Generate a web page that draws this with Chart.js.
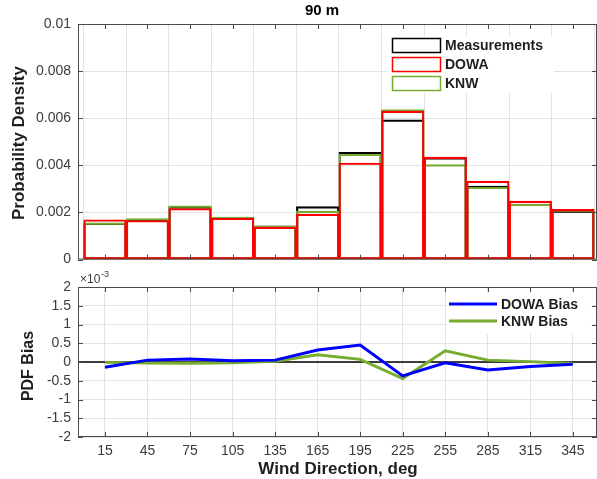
<!DOCTYPE html>
<html>
<head>
<meta charset="utf-8">
<script src="https://cdn.jsdelivr.net/npm/chart.js@4/dist/chart.umd.min.js"></script>
<style>
  html, body { margin: 0; padding: 0; background: #fff; width: 597px; height: 479px; overflow: hidden; }
  canvas { position: absolute; left: 0; }
  #densityChart { top: 0; }
  #biasChart { top: 270px; }
</style>
</head>
<body>
<canvas id="densityChart" width="597" height="275"></canvas>
<canvas id="biasChart" width="597" height="209"></canvas>
<script>
// Wind direction sector centres (deg)
const directions = [15, 45, 75, 105, 135, 165, 195, 225, 255, 285, 315, 345];

// Probability density per 30-degree sector at 90 m
const measurements = [0.00155, 0.00171, 0.00225, 0.00179, 0.00143, 0.00225, 0.00455, 0.00593, 0.00433, 0.00312, 0.00236, 0.00207];
const dowa         = [0.00169, 0.00166, 0.00217, 0.001755, 0.00138, 0.00193, 0.00410, 0.00630, 0.00435, 0.00333, 0.00248, 0.00213];
const knw          = [0.00156, 0.00174, 0.00228, 0.00181, 0.00141, 0.00206, 0.00448, 0.00637, 0.00403, 0.00307, 0.00235, 0.00211];

// PDF bias (measurements minus model)
const dowaBias = [-0.00014, 0.00005, 0.00008, 0.000035, 0.00005, 0.00032, 0.00045, -0.00037, -0.00002, -0.00021, -0.00012, -0.00006];
const knwBias  = [-0.00001, -0.00003, -0.00003, -0.00002, 0.00002, 0.00019, 0.00007, -0.00044, 0.00030, 0.00005, 0.00001, -0.00004];

// Axis ticks
const densityTicks = [0, 0.002, 0.004, 0.006, 0.008, 0.01];
const biasTicks = [-0.002, -0.0015, -0.001, -0.0005, 0, 0.0005, 0.001, 0.0015, 0.002];

const FONT = "'Liberation Sans', Arial, Helvetica, sans-serif";
const GRID = '#e3e3e3';
const AXIS = '#4a4a4a';
const TICK_TEXT = '#3c3c3c';
const LABEL = '#1e1e1e';
const RED = '#ff0000';
const GREEN = '#77ac30';
const BLUE = '#0000ff';

const toPoints = vals => directions.map((d, i) => ({ x: d, y: vals[i] }));

// Box around the plot area with inward tick marks on all four sides
function drawFrame(chart) {
  const { ctx, chartArea: a, scales } = chart;
  ctx.save();
  ctx.strokeStyle = AXIS;
  ctx.lineWidth = 1;
  ctx.strokeRect(a.left + 0.5, a.top + 0.5, a.right - a.left - 1, a.bottom - a.top - 1);
  ctx.beginPath();
  scales.x.ticks.forEach(t => {
    const px = Math.round(scales.x.getPixelForValue(t.value)) + 0.5;
    ctx.moveTo(px, a.bottom); ctx.lineTo(px, a.bottom - 5);
    ctx.moveTo(px, a.top); ctx.lineTo(px, a.top + 5);
  });
  scales.y.ticks.forEach(t => {
    const py = Math.round(scales.y.getPixelForValue(t.value)) + 0.5;
    ctx.moveTo(a.left, py); ctx.lineTo(a.left + 5, py);
    ctx.moveTo(a.right, py); ctx.lineTo(a.right - 5, py);
  });
  ctx.stroke();
  ctx.restore();
}

const densityDecor = {
  id: 'densityDecor',
  afterDatasetsDraw(chart) {
    const ctx = chart.ctx;
    drawFrame(chart);
    ctx.save();
    // legend
    ctx.fillStyle = '#ffffff';
    ctx.fillRect(388, 36, 166, 57);
    const items = [['Measurements', '#000000', 38], ['DOWA', RED, 57], ['KNW', GREEN, 76]];
    ctx.font = 'bold 14px ' + FONT;
    ctx.textBaseline = 'middle';
    ctx.textAlign = 'left';
    items.forEach(([name, color, y]) => {
      ctx.strokeStyle = color;
      ctx.lineWidth = 1.5;
      ctx.strokeRect(392.5, y + 0.5, 48, 14);
      ctx.fillStyle = LABEL;
      ctx.fillText(name, 445, y + 8);
    });
    // title
    ctx.textAlign = 'center';
    ctx.font = 'bold 15px ' + FONT;
    ctx.fillStyle = '#000';
    ctx.fillText('90 m', 322, 11);
    // y-axis title
    ctx.translate(19, 143);
    ctx.rotate(-Math.PI / 2);
    ctx.font = 'bold 17px ' + FONT;
    ctx.fillStyle = LABEL;
    ctx.fillText('Probability Density', 0, 0);
    ctx.restore();
  }
};

const biasDecor = {
  id: 'biasDecor',
  beforeDatasetsDraw(chart) {
    const { ctx, chartArea: a, scales } = chart;
    const y0 = scales.y.getPixelForValue(0);
    ctx.save();
    ctx.strokeStyle = '#000';
    ctx.lineWidth = 1.5;
    ctx.beginPath();
    ctx.moveTo(a.left, y0); ctx.lineTo(a.right, y0);
    ctx.stroke();
    ctx.restore();
  },
  afterDatasetsDraw(chart) {
    const ctx = chart.ctx;
    drawFrame(chart);
    ctx.save();
    // legend
    ctx.fillStyle = '#ffffff';
    ctx.fillRect(447, 23, 144, 41);
    ctx.font = 'bold 14px ' + FONT;
    ctx.textBaseline = 'middle';
    ctx.textAlign = 'left';
    [['DOWA Bias', BLUE, 34], ['KNW Bias', GREEN, 51]].forEach(([name, color, y]) => {
      ctx.strokeStyle = color;
      ctx.lineWidth = 3;
      ctx.beginPath();
      ctx.moveTo(449, y); ctx.lineTo(497, y);
      ctx.stroke();
      ctx.fillStyle = LABEL;
      ctx.fillText(name, 501, y + 1);
    });
    // exponent label
    ctx.fillStyle = TICK_TEXT;
    ctx.font = '12px ' + FONT;
    ctx.textBaseline = 'alphabetic';
    ctx.fillText('\u00d710', 80, 13);
    ctx.font = '9px ' + FONT;
    ctx.fillText('-3', 101, 7);
    // axis titles
    ctx.textAlign = 'center';
    ctx.textBaseline = 'middle';
    ctx.font = 'bold 17px ' + FONT;
    ctx.fillStyle = LABEL;
    ctx.fillText('Wind Direction, deg', 338, 199);
    ctx.translate(29, 96);
    ctx.rotate(-Math.PI / 2);
    ctx.font = 'bold 16px ' + FONT;
    ctx.fillText('PDF Bias', 0, 0);
    ctx.restore();
  }
};

const xTicks = scale => { scale.ticks = directions.map(v => ({ value: v })); };

new Chart(document.getElementById('densityChart'), {
  type: 'bar',
  data: {
    datasets: [
      { label: 'DOWA', data: toPoints(dowa), borderColor: RED, order: 0 },
      { label: 'KNW', data: toPoints(knw), borderColor: GREEN, order: 1 },
      { label: 'Measurements', data: toPoints(measurements), borderColor: '#000000', order: 2 }
    ]
  },
  options: {
    responsive: false,
    animation: false,
    devicePixelRatio: 1,
    layout: { padding: { top: 24, bottom: 13, left: 0, right: 0 } },
    datasets: {
      bar: {
        backgroundColor: 'rgba(0,0,0,0)',
        borderWidth: 1.5,
        borderSkipped: false,
        barPercentage: 1,
        categoryPercentage: 1,
        grouped: false
      }
    },
    plugins: { legend: { display: false }, tooltip: { enabled: false } },
    scales: {
      x: {
        type: 'linear', min: -4, max: 362, offset: false,
        afterBuildTicks: xTicks,
        afterFit: s => { s.height = 0; },
        ticks: { display: false, autoSkip: false },
        grid: { color: GRID, drawTicks: false },
        border: { display: false }
      },
      y: {
        type: 'linear', min: 0, max: 0.01,
        afterBuildTicks: s => { s.ticks = densityTicks.map(v => ({ value: v })); },
        afterFit: s => { s.width = 78; },
        ticks: {
          autoSkip: false,
          callback: v => (v === 0 ? '0' : String(+v.toFixed(3))),
          font: { family: FONT, size: 14 }, color: TICK_TEXT, padding: 7
        },
        grid: { color: GRID, drawTicks: false },
        border: { display: false }
      }
    }
  },
  plugins: [densityDecor]
});

new Chart(document.getElementById('biasChart'), {
  type: 'line',
  data: {
    datasets: [
      { label: 'DOWA Bias', data: toPoints(dowaBias), borderColor: BLUE, borderWidth: 3, pointRadius: 0, tension: 0 },
      { label: 'KNW Bias', data: toPoints(knwBias), borderColor: GREEN, borderWidth: 3, pointRadius: 0, tension: 0 }
    ]
  },
  options: {
    responsive: false,
    animation: false,
    devicePixelRatio: 1,
    layout: { padding: { top: 17, bottom: 0, left: 0, right: 0 } },
    plugins: { legend: { display: false }, tooltip: { enabled: false } },
    scales: {
      x: {
        type: 'linear', min: -4, max: 362, offset: false,
        afterBuildTicks: xTicks,
        afterFit: s => { s.height = 42; },
        ticks: { autoSkip: false, font: { family: FONT, size: 14 }, color: TICK_TEXT, padding: 6, maxRotation: 0 },
        grid: { color: GRID, drawTicks: false },
        border: { display: false }
      },
      y: {
        type: 'linear', min: -0.002, max: 0.002,
        afterBuildTicks: s => { s.ticks = biasTicks.map(v => ({ value: v })); },
        afterFit: s => { s.width = 78; },
        ticks: {
          autoSkip: false,
          callback: v => String(+(v * 1000).toFixed(1)),
          font: { family: FONT, size: 14 }, color: TICK_TEXT, padding: 7
        },
        grid: { color: GRID, drawTicks: false },
        border: { display: false }
      }
    }
  },
  plugins: [biasDecor]
});
</script>
</body>
</html>
